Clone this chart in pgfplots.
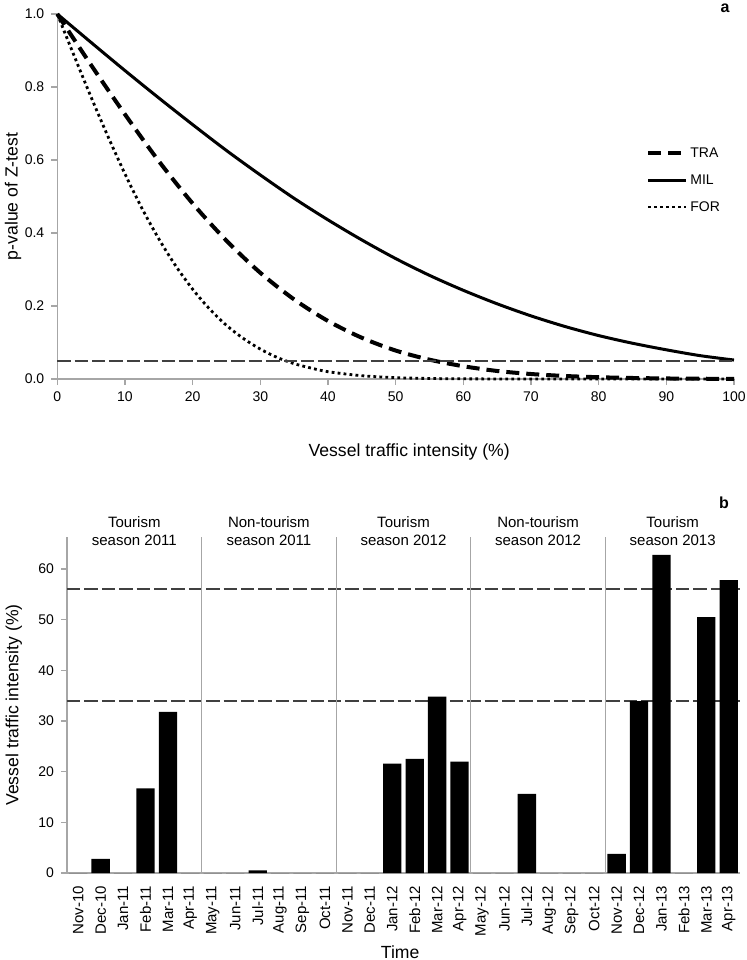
\documentclass[border=0pt]{standalone}
\usepackage{pgfplots}
\pgfplotsset{compat=1.18}
\usepackage{pgfplotstable}
\usepackage{fontspec}
\setmainfont{Liberation Sans}

\definecolor{axisgray}{HTML}{A6A6A6}
\definecolor{refline}{HTML}{404040}

% monthly vessel traffic intensity (%), panel b
\pgfplotstableread{
idx value
0  0
1  2.8
2  0
3  16.7
4  31.8
5  0
6  0
7  0
8  0.5
9  0
10 0
11 0
12 0
13 0
14 21.6
15 22.5
16 34.8
17 22.0
18 0
19 0
20 15.6
21 0
22 0
23 0
24 3.8
25 33.9
26 62.8
27 0
28 50.5
29 57.8
}\traffic

\begin{document}
\begin{tikzpicture}
\path[use as bounding box] (0,0) rectangle (373.5pt,-480pt);
\pgfplotsset{
  every axis/.append style={
    scale only axis, clip=false, enlargelimits=false,
    axis lines*=left,
    axis line style={axisgray, line width=0.6pt},
    tick style={axisgray, line width=0.6pt},
    tick align=outside, major tick length=3pt,
    tick label style={font=\fontsize{7}{8}\selectfont},
    /pgf/number format/assume math mode=true,
    label style={font=\fontsize{8.8}{10}\selectfont},
  }
}

% ---- panel a
\begin{axis}[
  at={(28.65pt,-189.5pt)}, anchor=south west,
  width=338.35pt, height=182.5pt,
  xmin=0, xmax=100, ymin=0, ymax=1,
  xtick={0,10,20,30,40,50,60,70,80,90,100},
  ytick={0,0.2,0.4,0.6,0.8,1},
  yticklabel style={/pgf/number format/.cd, fixed, fixed zerofill, precision=1},
  xlabel={Vessel traffic intensity (\%)},
  ylabel={p-value of Z-test},
  xlabel style={at={(rel axis cs:0.52,-0.2)}, anchor=center},
  ylabel style={at={(rel axis cs:-0.0655,0.5)}, anchor=center},
  legend style={at={(axis cs:87.0,0.545)}, anchor=west, draw=none, fill=none,
    font=\fontsize{7}{8}\selectfont, row sep=5.5pt, inner sep=0pt,
    nodes={inner sep=1pt, text height=5pt, text depth=1pt}},
  legend cell align=left,
  legend image code/.code={\draw[#1] (0pt,0pt) -- (19pt,0pt);},
]
\addplot[black, line width=2pt, dash pattern=on 6.5pt off 3.5pt, smooth] coordinates {
  (0,1) (5,0.860) (10,0.725) (15,0.597) (20,0.481) (25,0.379) (30,0.291)
  (35,0.218) (40,0.159) (45,0.113) (50,0.078) (55,0.053) (60,0.035)
  (65,0.022) (70,0.0137) (75,0.0083) (80,0.0049) (85,0.0028) (90,0.0015)
  (95,0.0008) (100,0.0004)};
\addlegendentry{TRA}
\addplot[black, line width=1.5pt, smooth] coordinates {
  (0,1) (5,0.922) (10,0.845) (15,0.770) (20,0.697) (25,0.626) (30,0.559)
  (35,0.495) (40,0.436) (45,0.381) (50,0.330) (55,0.284) (60,0.243)
  (65,0.206) (70,0.173) (75,0.144) (80,0.119) (85,0.098) (90,0.080)
  (95,0.064) (100,0.052)};
\addlegendentry{MIL}
\addplot[black, line width=1.4pt, dash pattern=on 1.4pt off 1.6pt, smooth] coordinates {
  (0,1) (2.5,0.885) (5,0.772) (7.5,0.664) (10,0.562) (12.5,0.468) (15,0.384)
  (17.5,0.310) (20,0.246) (22.5,0.192) (25,0.147) (27.5,0.111) (30,0.082)
  (32.5,0.059) (35,0.042) (37.5,0.030) (40,0.020) (45,0.009) (50,0.0037)
  (55,0.0014) (60,0.0005) (70,0) (80,0) (90,0) (100,0)};
\addlegendentry{FOR}
\addplot[refline, line width=1pt, dash pattern=on 6.7pt off 2pt, forget plot]
  coordinates {(0,0.05) (100,0.05)};
\end{axis}
\node[font=\bfseries\fontsize{8}{9}\selectfont] at (362.5pt,-4pt) {a};

% ---- panel b
\begin{axis}[
  at={(33.5pt,-436.5pt)}, anchor=south west,
  width=336.5pt, height=168pt,
  xmin=-0.5, xmax=29.5, ymin=0, ymax=66.3,
  ytick={0,10,20,30,40,50,60},
  xtick={0,...,29},
  xticklabels={Nov-10,Dec-10,Jan-11,Feb-11,Mar-11,Apr-11,May-11,Jun-11,Jul-11,Aug-11,Sep-11,Oct-11,
    Nov-11,Dec-11,Jan-12,Feb-12,Mar-12,Apr-12,May-12,Jun-12,Jul-12,Aug-12,Sep-12,Oct-12,
    Nov-12,Dec-12,Jan-13,Feb-13,Mar-13,Apr-13},
  xticklabel style={rotate=90, anchor=east, font=\fontsize{7.5}{8}\selectfont},
  xtick style={draw=none},
  minor xtick={-0.5,0.5,...,29.5},
  minor x tick style={axisgray, line width=0.6pt},
  minor tick length=3pt,
  xlabel={Time},
  ylabel={Vessel traffic intensity (\%)},
  xlabel style={at={(rel axis cs:0.495,-0.235)}, anchor=center},
  ylabel style={at={(rel axis cs:-0.079,0.5)}, anchor=center},
]
\addplot[refline, line width=1pt, dash pattern=on 6.7pt off 2pt] coordinates {(-0.5,56) (29.5,56)};
\addplot[refline, line width=1pt, dash pattern=on 6.7pt off 2pt] coordinates {(-0.5,34) (29.5,34)};
\addplot[ybar, bar width=9.15pt, fill=black, draw=none] table[x=idx, y=value] {\traffic};
\addplot[axisgray, line width=0.6pt] coordinates {(5.5,0) (5.5,66.3)};
\addplot[axisgray, line width=0.6pt] coordinates {(11.5,0) (11.5,66.3)};
\addplot[axisgray, line width=0.6pt] coordinates {(17.5,0) (17.5,66.3)};
\addplot[axisgray, line width=0.6pt] coordinates {(23.5,0) (23.5,66.3)};
\path[font=\fontsize{7.5}{9}\selectfont, align=center]
  (axis cs:2.5,67.45)  node {Tourism\\season 2011}
  (axis cs:8.5,67.45)  node {Non-tourism\\season 2011}
  (axis cs:14.5,67.45) node {Tourism\\season 2012}
  (axis cs:20.5,67.45) node {Non-tourism\\season 2012}
  (axis cs:26.5,67.45) node {Tourism\\season 2013};
\end{axis}
\node[font=\bfseries\fontsize{8}{9}\selectfont] at (362pt,-251.5pt) {b};
\end{tikzpicture}
\end{document}
